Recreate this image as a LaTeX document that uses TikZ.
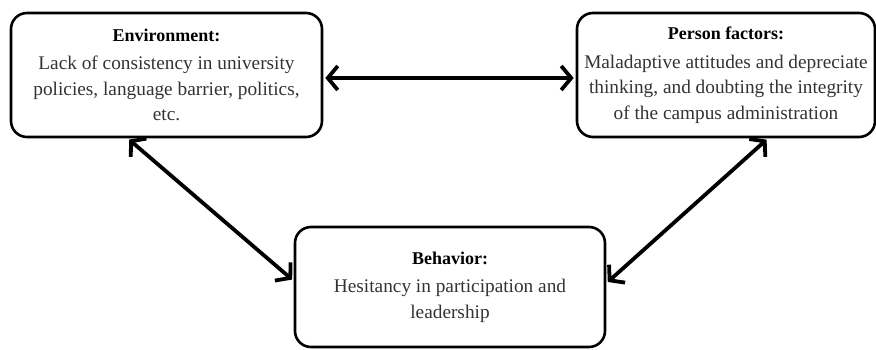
\documentclass[tikz,border=0pt]{standalone}
\usepackage{fontspec}
\setmainfont{Liberation Serif}
\usetikzlibrary{arrows.meta,calc}
\definecolor{txt}{HTML}{333333}
\newcommand{\hd}[1]{{\color{black}\fontsize{18}{26}\selectfont\bfseries #1}}
\tikzset{
  box/.style={draw=black, line width=2.6pt, rounded corners=16pt, align=center,
    inner sep=0pt, text=txt, font=\fontsize{19.3}{25.5}\selectfont},
  link/.style={line width=3.8pt, {Straight Barb[length=10pt,width=24pt,line width=3.8pt]}-{Straight Barb[length=10pt,width=24pt,line width=3.8pt]}, shorten <=2pt, shorten >=2pt}
}
\begin{document}
\begin{tikzpicture}[x=1pt,y=1pt]
\useasboundingbox (0,0) rectangle (876,349);
\node[box, minimum width=311pt, minimum height=124pt] (env) at (166.5,274)
 {\hd{Environment:}\\[3pt]Lack of consistency in university\\policies, language barrier, politics,\\etc.};
\node[box, minimum width=298pt, minimum height=124pt] (per) at (726,274)
 {\hd{Person factors:}\\[3pt]Maladaptive attitudes and depreciate\\thinking, and doubting the integrity\\of the campus administration};
\node[box, minimum width=310pt, minimum height=120pt] (beh) at (450,62)
 {\hd{Behavior:}\\[3pt]Hesitancy in participation and\\leadership};
\draw[link] ([yshift=-3pt]env.east) -- ([yshift=-3pt]per.west);
\draw[link] ($(env.south west)!0.376!(env.south east)$) -- ($(beh.north west)!0.45!(beh.south west)$);
\draw[link] ($(per.south west)!0.64!(per.south east)$) -- ($(beh.north east)!0.47!(beh.south east)$);
\end{tikzpicture}
\end{document}
